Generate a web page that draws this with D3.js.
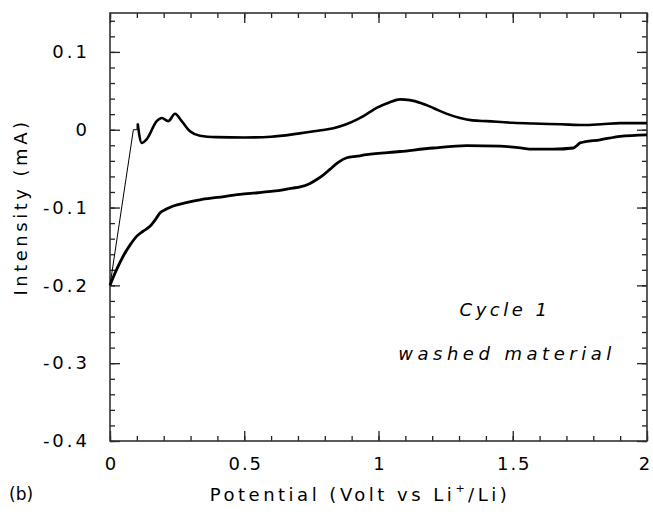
<!DOCTYPE html>
<html>
<head>
<meta charset="utf-8">
<script src="https://cdn.jsdelivr.net/npm/d3@7"></script>
<style>
  body { margin: 0; background: #fff; }
  text { font-family: "DejaVu Sans", sans-serif; fill: #000; }
</style>
</head>
<body>
<svg id="chart"></svg>
<script>
const [w, h] = [653, 515];
const m = {top: 13, right: 6, bottom: 74, left: 110};

// data: potential (V) and current (mA)
const rampX = [0, 0.087, 0.1, 0.103];
const rampY = [-0.2, 0.0, 0.0, 0.008];

const upperX = [0.103, 0.118, 0.137, 0.174, 0.193, 0.217, 0.242, 0.267, 0.298, 0.335, 0.397,
                0.5, 0.6, 0.7, 0.78, 0.832, 0.88, 0.919, 0.96, 0.993, 1.04, 1.08, 1.117, 1.16,
                1.204, 1.25, 1.304, 1.35, 1.403, 1.5, 1.577, 1.68, 1.763, 1.83, 1.9, 2.0];
const upperY = [0.008, -0.017, -0.012, 0.011, 0.015, 0.011, 0.0205, 0.011, -0.002, -0.0077, -0.0095,
                -0.01, -0.009, -0.005, -0.001, 0.002, 0.007, 0.013, 0.021, 0.028, 0.035, 0.039, 0.038, 0.034,
                0.028, 0.021, 0.015, 0.012, 0.011, 0.009, 0.008, 0.007, 0.006, 0.007, 0.0085, 0.0085];

const lowerX = [0, 0.019, 0.05, 0.075, 0.099, 0.125, 0.149, 0.17, 0.186, 0.21, 0.236, 0.28, 0.335,
                0.4, 0.484, 0.55, 0.608, 0.68, 0.708, 0.745, 0.77, 0.795, 0.819, 0.85, 0.882, 0.92,
                0.956, 1.08, 1.204, 1.329, 1.453, 1.52, 1.577, 1.65, 1.726, 1.74, 1.751, 1.825, 1.9, 2.0];
const lowerY = [-0.2, -0.184, -0.162, -0.148, -0.137, -0.13, -0.124, -0.115, -0.107, -0.102, -0.098, -0.094, -0.09,
                -0.087, -0.083, -0.081, -0.079, -0.075, -0.0735, -0.069, -0.064, -0.058, -0.051, -0.042, -0.036, -0.034,
                -0.032, -0.028, -0.0235, -0.0205, -0.021, -0.023, -0.025, -0.025, -0.0235, -0.02, -0.017, -0.013, -0.0085, -0.0065];

const xTicks = [0, 0.5, 1, 1.5, 2];
const yTicks = [-0.4, -0.3, -0.2, -0.1, 0, 0.1];

const svg = d3.select('#chart').attr('width', w).attr('height', h);

const xScale = d3.scaleLinear().domain([0, 2]).range([m.left, w - m.right]);
const yScale = d3.scaleLinear().domain([-0.4, 0.15]).range([h - m.bottom, m.top]);

const xMinor = d3.range(0, 2.0001, 0.1);
const yMinor = d3.range(-0.4, 0.1501, 0.02);

const fx = d => d3.format('~g')(d);
const fy = d => d === 0 ? '0' : d.toFixed(1);   // plain hyphen like the original

function addAxis(axis, tr) {
    const g = svg.append('g').attr('transform', tr).call(axis);
    g.select('.domain').remove();
    g.selectAll('line').attr('stroke', '#222').attr('stroke-width', 1.3);
    g.selectAll('text').style('font-size', '18px').style('letter-spacing', '3px')
        .attr('fill', '#000');
    return g;
}

const B = h - m.bottom, L = m.left, R = w - m.right, T = m.top;

// minor ticks
addAxis(d3.axisBottom(xScale).tickValues(xMinor).tickSize(-5).tickFormat(''), `translate(0,${B})`);
addAxis(d3.axisTop(xScale).tickValues(xMinor).tickSize(-5).tickFormat(''), `translate(0,${T})`);
addAxis(d3.axisLeft(yScale).tickValues(yMinor).tickSize(-5).tickFormat(''), `translate(${L},0)`);
addAxis(d3.axisRight(yScale).tickValues(yMinor).tickSize(-5).tickFormat(''), `translate(${R},0)`);

// major ticks
const xb = addAxis(d3.axisBottom(xScale).tickValues(xTicks).tickSize(-10).tickPadding(16).tickFormat(fx), `translate(0,${B})`);
xb.selectAll('text').style('letter-spacing', '2px').attr('dx', d => d === 2 ? '-2px' : '1px');
addAxis(d3.axisTop(xScale).tickValues(xTicks).tickSize(-10).tickFormat(''), `translate(0,${T})`);
addAxis(d3.axisLeft(yScale).tickValues(yTicks).tickSize(-10).tickPadding(20).tickFormat(fy), `translate(${L},0)`);
addAxis(d3.axisRight(yScale).tickValues(yTicks).tickSize(-10).tickFormat(''), `translate(${R},0)`);

// frame
svg.append('rect')
    .attr('x', L).attr('y', T).attr('width', R - L).attr('height', B - T)
    .attr('fill', 'none').attr('stroke', '#333').attr('stroke-width', 1.6);

const line = (xs, ys, curve) => d3.line()
    .x(i => xScale(xs[i])).y(i => yScale(ys[i]))
    .curve(curve)(d3.range(xs.length));

svg.append('path').attr('d', line(rampX, rampY, d3.curveLinear))
    .attr('fill', 'none').attr('stroke', '#000').attr('stroke-width', 1);
svg.append('path').attr('d', line(upperX, upperY, d3.curveMonotoneX))
    .attr('fill', 'none').attr('stroke', '#000').attr('stroke-width', 2.6).attr('stroke-linejoin', 'round');
svg.append('path').attr('d', line(lowerX, lowerY, d3.curveMonotoneX))
    .attr('fill', 'none').attr('stroke', '#000').attr('stroke-width', 2.8).attr('stroke-linejoin', 'round');

// axis titles
const xt = svg.append('text')
    .attr('x', 360).attr('y', 501)
    .style('text-anchor', 'middle').style('font-size', '18px').style('letter-spacing', '3.5px')
    .text('Potential (Volt vs Li');
xt.append('tspan').attr('dy', '-9').style('font-size', '11px').text('+');
xt.append('tspan').attr('dy', '9').text('/Li)');

svg.append('text')
    .attr('transform', 'translate(27,207) rotate(-90)')
    .style('text-anchor', 'middle').style('font-size', '18px').style('letter-spacing', '3.5px')
    .text('Intensity (mA)');

svg.append('text').attr('x', 9).attr('y', 500).style('font-size', '17px').text('(b)');

svg.append('text').attr('x', 505).attr('y', 316)
    .style('text-anchor', 'middle').style('font-size', '18px').style('font-style', 'italic').style('letter-spacing', '3.5px')
    .text('Cycle 1');
svg.append('text').attr('x', 507).attr('y', 360)
    .style('text-anchor', 'middle').style('font-size', '18px').style('font-style', 'italic').style('letter-spacing', '4.5px')
    .text('washed material');
</script>
</body>
</html>
